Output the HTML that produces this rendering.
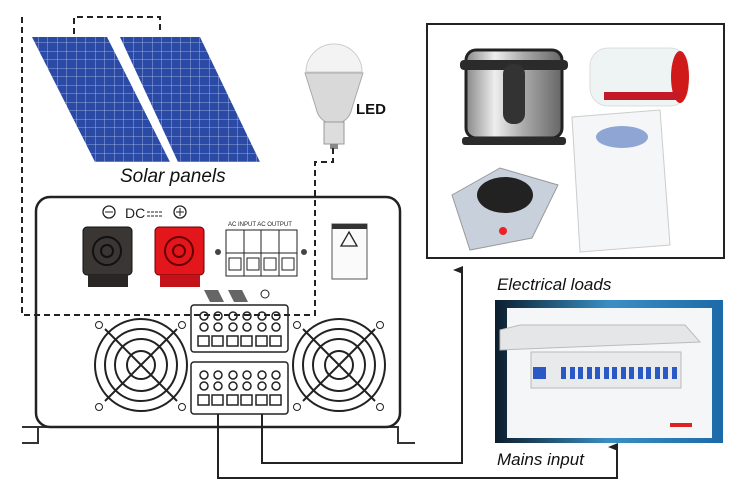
<!DOCTYPE html>
<html><head><meta charset="utf-8"><style>
body{margin:0;background:#fff;width:750px;height:493px;overflow:hidden}
svg{display:block}
text{font-family:"Liberation Sans",sans-serif}
</style></head><body>
<svg width="750" height="493" viewBox="0 0 750 493" xmlns="http://www.w3.org/2000/svg">
<defs>
<pattern id="cells" width="9.5" height="8.5" patternUnits="userSpaceOnUse">
<rect width="9.5" height="8.5" fill="#2a4aa6"/>
<path d="M0 0H9.5M0 0V8.5" stroke="#b4c4ea" stroke-width="0.8"/>
</pattern>
<linearGradient id="steel" x1="0" x2="1"><stop offset="0" stop-color="#888"/><stop offset=".3" stop-color="#eee"/><stop offset=".6" stop-color="#aaa"/><stop offset="1" stop-color="#666"/></linearGradient>
<linearGradient id="blu" x1="0" x2="1"><stop offset="0" stop-color="#0c1e2e"/><stop offset=".5" stop-color="#3a8fc4"/><stop offset="1" stop-color="#1c6aa8"/></linearGradient>
<marker id="ar" markerWidth="8" markerHeight="10" refX="4" refY="9" orient="auto-start-reverse" markerUnits="userSpaceOnUse"><path d="M0 10L4 0L8 10Z" fill="#222"/></marker>
</defs>
<!-- solar panels -->
<polygon points="32,37 107,37 170,162 95,162" fill="url(#cells)"/>
<polygon points="120,37 200,37 260,162 178,162" fill="url(#cells)"/>
<text x="120" y="182" font-size="19" font-style="italic" fill="#111">Solar panels</text>
<!-- bulb -->
<path d="M306,72 A28,28 0 0 1 362,72 Z" fill="#f3f3f3" stroke="#ccc"/>
<path d="M305,73 H363 L352,108 Q350,118 342,122 H326 Q318,118 316,108 Z" fill="#d9d9d9" stroke="#aaa"/>
<rect x="324" y="122" width="20" height="22" fill="#ddd" stroke="#999"/>
<rect x="330" y="144" width="8" height="5" fill="#888"/>
<text x="356" y="114" font-size="15" font-weight="bold" fill="#111">LED</text>
<!-- inverter -->
<path d="M22,427 H38 V443 H22" fill="none" stroke="#333" stroke-width="2"/>
<path d="M38,427 H398 V443 H415" fill="none" stroke="#333" stroke-width="2"/>
<rect x="36" y="197" width="364" height="230" rx="14" fill="#fff" stroke="#222" stroke-width="2.5"/>
<circle cx="109" cy="212" r="6" fill="none" stroke="#222" stroke-width="1.3"/><path d="M105,212H113" stroke="#222"/>
<text x="125" y="218" font-size="14" fill="#222">DC</text><path d="M147,212H162M147,216H162" stroke="#222" stroke-dasharray="3,1"/>
<circle cx="180" cy="212" r="6" fill="none" stroke="#222" stroke-width="1.3"/><path d="M176,212H184M180,208V216" stroke="#222"/>
<rect x="83" y="227" width="49" height="48" rx="4" fill="#3a3634" stroke="#111"/>
<rect x="88" y="275" width="40" height="12" fill="#2a2625"/>
<circle cx="107" cy="251" r="14" fill="none" stroke="#111" stroke-width="2"/><circle cx="107" cy="251" r="6" fill="none" stroke="#111" stroke-width="2"/>
<rect x="155" y="227" width="49" height="48" rx="4" fill="#e3161c" stroke="#600"/>
<rect x="160" y="275" width="40" height="12" fill="#c4121a"/>
<circle cx="179" cy="251" r="14" fill="none" stroke="#600" stroke-width="2"/><circle cx="179" cy="251" r="6" fill="none" stroke="#600" stroke-width="2"/>
<text x="228" y="226" font-size="6" fill="#222">AC INPUT  AC OUTPUT</text>
<rect x="226" y="230" width="71" height="46" fill="#fff" stroke="#222"/>
<path d="M244,230V276M261,230V276M279,230V276M226,253H297" stroke="#222"/>
<g><rect x="229" y="258" width="12" height="12" fill="none" stroke="#222"/><rect x="247" y="258" width="12" height="12" fill="none" stroke="#222"/><rect x="264" y="258" width="12" height="12" fill="none" stroke="#222"/><rect x="282" y="258" width="12" height="12" fill="none" stroke="#222"/></g>
<circle cx="218" cy="252" r="3" fill="#444"/><circle cx="304" cy="252" r="3" fill="#444"/>
<rect x="332" y="224" width="35" height="55" fill="#fafafa" stroke="#555"/><rect x="332" y="224" width="35" height="5" fill="#333"/>
<path d="M349,232 L357,246 H341 Z" fill="none" stroke="#222" stroke-width="1.3"/>
<!-- fans -->
<g fill="none" stroke="#222" stroke-width="2">
<circle cx="141" cy="365" r="46"/><circle cx="141" cy="365" r="36"/><circle cx="141" cy="365" r="26"/><circle cx="141" cy="365" r="14"/>
<path d="M105,329L177,401M177,329L105,401"/>
<circle cx="339" cy="365" r="46"/><circle cx="339" cy="365" r="36"/><circle cx="339" cy="365" r="26"/><circle cx="339" cy="365" r="14"/>
<path d="M303,329L375,401M375,329L303,401"/>
</g>
<g fill="none" stroke="#222"><circle cx="99" cy="325" r="3.5"/><circle cx="182" cy="325" r="3.5"/><circle cx="99" cy="407" r="3.5"/><circle cx="182" cy="407" r="3.5"/><circle cx="297" cy="325" r="3.5"/><circle cx="380" cy="325" r="3.5"/><circle cx="297" cy="407" r="3.5"/><circle cx="380" cy="407" r="3.5"/></g>
<!-- terminal blocks -->
<g fill="none" stroke="#222" stroke-width="1.5">
<rect x="191" y="305" width="97" height="47" rx="3"/>
<rect x="191" y="362" width="97" height="52" rx="3"/>
</g>
<g fill="none" stroke="#222" stroke-width="1.5">
<circle cx="204" cy="316" r="4"/><circle cx="218" cy="316" r="4"/><circle cx="233" cy="316" r="4"/><circle cx="247" cy="316" r="4"/><circle cx="262" cy="316" r="4"/><circle cx="276" cy="316" r="4"/>
<circle cx="204" cy="327" r="4"/><circle cx="218" cy="327" r="4"/><circle cx="233" cy="327" r="4"/><circle cx="247" cy="327" r="4"/><circle cx="262" cy="327" r="4"/><circle cx="276" cy="327" r="4"/>
<rect x="198" y="336" width="11" height="10"/><rect x="212" y="336" width="11" height="10"/><rect x="227" y="336" width="11" height="10"/><rect x="241" y="336" width="11" height="10"/><rect x="256" y="336" width="11" height="10"/><rect x="270" y="336" width="11" height="10"/>
<circle cx="204" cy="375" r="4"/><circle cx="218" cy="375" r="4"/><circle cx="233" cy="375" r="4"/><circle cx="247" cy="375" r="4"/><circle cx="262" cy="375" r="4"/><circle cx="276" cy="375" r="4"/>
<circle cx="204" cy="386" r="4"/><circle cx="218" cy="386" r="4"/><circle cx="233" cy="386" r="4"/><circle cx="247" cy="386" r="4"/><circle cx="262" cy="386" r="4"/><circle cx="276" cy="386" r="4"/>
<rect x="198" y="395" width="11" height="10"/><rect x="212" y="395" width="11" height="10"/><rect x="227" y="395" width="11" height="10"/><rect x="241" y="395" width="11" height="10"/><rect x="256" y="395" width="11" height="10"/><rect x="270" y="395" width="11" height="10"/>
</g>
<polygon points="204,290 218,290 224,302 210,302" fill="#666"/><polygon points="228,290 242,290 248,302 234,302" fill="#666"/>
<circle cx="265" cy="294" r="4" fill="none" stroke="#222"/>
<!-- dashed wires (on top) -->
<g fill="none" stroke="#222" stroke-width="2" stroke-dasharray="6,4">
<path d="M74,34 V17 H160 V31"/>
<path d="M22,17 V315 H315 V162 H333 V148"/>
</g>
<!-- connector lines -->
<g fill="none" stroke="#222" stroke-width="2">
<path d="M218,414 V478 H617 V447" marker-end="url(#ar)"/>
<path d="M262,414 V463 H462 V270" marker-end="url(#ar)"/>
</g>
<!-- loads box -->
<rect x="427" y="24" width="297" height="234" fill="#fff" stroke="#222" stroke-width="2"/>
<rect x="466" y="50" width="96" height="88" rx="10" fill="url(#steel)" stroke="#222" stroke-width="3"/>
<rect x="460" y="60" width="108" height="10" rx="4" fill="#2b2b2b"/>
<rect x="503" y="64" width="22" height="60" rx="10" fill="#333"/>
<rect x="462" y="137" width="104" height="8" rx="3" fill="#2b2b2b"/>
<rect x="590" y="48" width="98" height="58" rx="18" fill="#eef4f4" stroke="#ddd"/>
<ellipse cx="680" cy="77" rx="9" ry="26" fill="#d01a1a"/>
<rect x="604" y="92" width="76" height="8" fill="#c31a2a"/>
<polygon points="572,117 660,110 670,245 580,252" fill="#f4f6f8" stroke="#ccc"/>
<ellipse cx="622" cy="137" rx="26" ry="11" fill="#8fa6d4"/>
<polygon points="452,195 500,168 558,185 532,238 470,250" fill="#c8d0dc" stroke="#999"/>
<ellipse cx="505" cy="195" rx="28" ry="18" fill="#222"/>
<circle cx="503" cy="231" r="4" fill="#e22"/>
<text x="497" y="290" font-size="17" font-style="italic" fill="#111">Electrical loads</text>
<!-- mains panel -->
<rect x="495" y="300" width="228" height="143" fill="url(#blu)"/>
<rect x="507" y="308" width="205" height="130" fill="#f5f6f7"/>
<polygon points="500,330 520,325 685,325 700,342 500,350" fill="#e4e6e8" stroke="#bbb"/>
<rect x="531" y="352" width="150" height="36" fill="#e8eaec" stroke="#bbb"/>
<g fill="#2a58c4"><rect x="533" y="367" width="8" height="12"/><rect x="540" y="367" width="6" height="12"/><rect x="561" y="367" width="5" height="12"/><rect x="570" y="367" width="5" height="12"/><rect x="578" y="367" width="5" height="12"/><rect x="587" y="367" width="5" height="12"/><rect x="595" y="367" width="5" height="12"/><rect x="604" y="367" width="5" height="12"/><rect x="612" y="367" width="5" height="12"/><rect x="621" y="367" width="5" height="12"/><rect x="629" y="367" width="5" height="12"/><rect x="638" y="367" width="5" height="12"/><rect x="646" y="367" width="5" height="12"/><rect x="655" y="367" width="5" height="12"/><rect x="663" y="367" width="5" height="12"/><rect x="672" y="367" width="5" height="12"/></g>
<rect x="670" y="423" width="22" height="4" fill="#d22"/>
<text x="497" y="465" font-size="17" font-style="italic" fill="#111">Mains input</text>
</svg>
</body></html>
